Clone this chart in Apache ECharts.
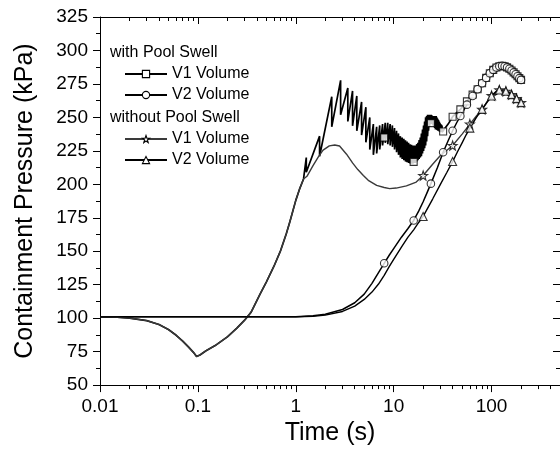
<!DOCTYPE html>
<html><head><meta charset="utf-8">
<script src="https://cdn.jsdelivr.net/npm/echarts@6/dist/echarts.min.js"></script>
<style>html,body{margin:0;padding:0;background:#fff}#c{width:560px;height:451px}</style>
</head><body><div id="c"></div>
<script>
// ---------- data ----------
const xMajorTicks = [0.01, 0.1, 1, 10, 100];
const xMinorTicks = [0.02,0.03,0.04,0.05,0.06,0.07,0.08,0.09,0.2,0.3,0.4,0.5,0.6,0.7,0.8,0.9,2,3,4,5,6,7,8,9,20,30,40,50,60,70,80,90,200,300,400];

// shared early part of both V1 curves (depressurisation dip)
const dipT = [0.01,0.015,0.02,0.03,0.04,0.05,0.06,0.07,0.08,0.09,0.097,0.105,0.12,0.15,0.2,0.25,0.3,0.35,0.43,0.5,0.6,0.7,0.8,0.87,1,1.1,1.2];
const dipP = [101,100.7,100.1,98.2,95.3,91.5,87.2,82.8,78.5,74.5,71.3,72.5,75.5,79.5,86,92.5,98.5,104.5,117.7,127,139,150.5,163,172,188,197,204];

// with Pool Swell, V1 Volume: sawtooth (peak then vertical drop)
const toothT  = [1.28,1.75,2.33,2.87,3.4,3.8,4.2,4.7,5.2,5.7,6.2,6.7,7.2,7.7,8.2,8.7,9.2,9.7,10.2,10.7,11.2,11.7,12.2,12.7,13.2,13.7,14.2,14.7,15.2,15.7,16.2,16.7,17.2,17.7,18.2,18.7,19.2,19.7,20.2,20.7,21.2,21.7,22.2,22.7,23.2,23.7,24.2,24.7,25.2,25.7,26.2,26.7,27.2,27.7,28.2,28.7,29.2,29.7,30.2,30.7,31.2];
const toothHi = [220,236,265.5,277.7,272,269.8,266,261.5,257.6,250,245,243,244,245,246,246,245,244,242,240,238,236,235,234,233,232,231,230,229.5,229,229,229,230,231,233,235,238,241,244,247,250,251,252,252,252,252,252,251.5,251,251,251,251,251,250,249,248,247,246,245,244.5,244];
const toothLo = [209,221,243,252,247,243.7,240,236.8,231.4,226,222,223,226,229,231,230,229,228,226,224,222,220,219,218,217,216.5,216,215.5,215.5,215.5,216,216,217,218,219,220,221,223,225,227,229,232,236,240,243,245,246,245,244,243,242,241,241,240.5,240,240,239.5,239,239,239,239];
const v1PsLateT = [32,36,40,44,48,52,56,60,64,72,80,88,96,104,112,120,128,136,144,152,160,168,176,184,192,200];
const v1PsLateP = [239.5,245,250.5,253.5,256,259,262,264.5,267,271,275.5,279.5,283,285.5,287.3,288.2,288.5,288.2,287.4,286.3,285,283.6,282.2,280.7,279.3,278];
const v1PsMarkT = [8,16,24,32,40,48,56,64,72,80,88,96,104,112,120,128,136,144,152,160,168,176,184,192,200];
const v1PsMarkP = [235,216.8,245.7,239.5,250.5,256,262,267,271,275.5,279.5,283,285.5,287.3,288.2,288.5,288.2,287.4,286.3,285,283.6,282.2,280.7,279.3,278];

// with Pool Swell, V2 Volume
const v2PsT = [0.01,0.1,1,1.5,2,3,4,5,6,7,8,9,10,12,14,16,18,20,22,24,28,32,36,40,44,48,52,56,60,64,72,80,88,96,104,112,120,128,136,144,152,160,168,176,184,192,200];
const v2PsP = [101,101,101,101.8,103,106.5,111.5,118,126,134,141,147,152,160.5,167,173,180,187,194,200.5,212.5,224,232.5,240,246,251,255.5,259.5,263,266,271,275.5,279.5,283,285.5,287.3,288.2,288.5,288.2,287.4,286.3,285,283.6,282.2,280.7,279.3,278];
const v2PsMarkT = [8,16,24,32,40,48,56,64,72,80,88,96,104,112,120,128,136,144,152,160,168,176,184,192,200];
const v2PsMarkP = [141,173,200.5,224,240,251,259.5,266,271,275.5,279.5,283,285.5,287.3,288.2,288.5,288.2,287.4,286.3,285,283.6,282.2,280.7,279.3,278];

// without Pool Swell, V1 Volume (after the shared dip)
const v1NoT = [1.3,1.5,1.7,1.9,2.2,2.5,2.8,3.3,3.8,4.3,4.9,5.5,6.7,8,9.1,10.6,13.5,17,20,25,30,35,40,50,60,70,80,90,100,110,120,130,140,150,160,170,180,190,200];
const v1NoP = [206,214,220.5,225.5,228.7,229.4,228.6,222.5,216,211,206.6,203,199.2,197.6,196.8,197.2,198.8,201.7,206.6,215,221.5,225.5,229,237.5,245,251,256,261.5,266.3,269,270.5,270.3,269.5,268.5,267,265.5,264,262.5,261];
const v1NoMarkT = [20,40,60,80,100,120,140,160,180,200];
const v1NoMarkP = [206.6,229,245,256,266.3,270.5,269.5,267,264,261];

// without Pool Swell, V2 Volume
const v2NoT = [0.01,0.1,1,1.5,2,3,4,5,6,7,8,9,10,12,14,16,18,20,25,30,35,40,45,50,55,60,70,80,90,100,110,120,130,140,150,160,170,180,190,200];
const v2NoP = [101,101,101,101.4,102.3,105,109,114,119.5,125.5,132,138.5,144,153,160.5,166,171.5,176,189,200,209,217,224.5,231,237,242,250,256,261.5,266,269,270.5,270.3,269.5,268.5,267,265.5,264,262.5,261];
const v2NoMarkT = [20,40,60,80,100,120,140,160,180,200];
const v2NoMarkP = [176,217,242,256,266,270.5,269.5,267,264,261];

// ---------- build ----------
const pairs = (T, P) => T.map((t, i) => [t, P[i]]);
const teeth = [];
toothT.forEach((t, i) => { teeth.push([t, toothHi[i]]); teeth.push([t, toothLo[i]]); });
const dataA = pairs(dipT, dipP).concat(teeth, pairs(v1PsLateT, v1PsLateP));
const dataB = pairs(v2PsT, v2PsP);
const dataC = pairs(dipT, dipP).concat(pairs(v1NoT, v1NoP));
const dataD = pairs(v2NoT, v2NoP);

const STAR = 'path://M0,-10 L2.35,-3.24 L9.51,-3.09 L3.8,1.24 L5.88,8.09 L0,4 L-5.88,8.09 L-3.8,1.24 L-9.51,-3.09 L-2.35,-3.24 Z';
const FONT = 'Liberation Sans';
const names = {
  a: 'with Pool Swell V1 Volume', b: 'with Pool Swell V2 Volume',
  c: 'without Pool Swell V1 Volume', d: 'without Pool Swell V2 Volume'
};
const markerStyle = { color: '#fff', borderColor: '#000', borderWidth: 1.1 };

function lineSeries(name, data, symbol, size, color, width) {
  return {
    type: 'line', name, data, symbol, symbolSize: size, showSymbol: false,
    xAxisIndex: 0, yAxisIndex: 0,
    itemStyle: markerStyle, lineStyle: { color: color, width: width },
    emphasis: { disabled: true }, z: 2
  };
}
function markSeries(data, symbol, size) {
  return {
    type: 'scatter', name: 'm_' + symbol, data, symbol, symbolSize: size,
    xAxisIndex: 0, yAxisIndex: 0, itemStyle: markerStyle,
    emphasis: { disabled: true }, z: 3
  };
}
function legendFor(name, top) {
  return {
    data: [name], left: 124, top: top, orient: 'vertical', padding: 0,
    itemWidth: 42, itemHeight: 9, selectedMode: false,
    itemStyle: { borderWidth: 1.1 },
    formatter: n => n.replace(/^with(out)? Pool Swell /, ''),
    textStyle: { fontFamily: FONT, fontSize: 16, color: '#000' }
  };
}

const axisCommonX = { type: 'log', min: 0.01, max: 500, gridIndex: 0, splitLine: { show: false } };
const axisCommonY = { type: 'value', min: 50, max: 325, interval: 25, splitLine: { show: false } };
const blackLine = { lineStyle: { color: '#000', width: 1 } };

const chart = echarts.init(document.getElementById('c'), null, { renderer: 'canvas' });
chart.setOption({
  animation: false,
  backgroundColor: '#fff',
  grid: { left: 100, right: 0, top: 17, bottom: 63 },
  xAxis: [
    Object.assign({}, axisCommonX, {
      position: 'bottom',
      axisLine: Object.assign({ show: true }, blackLine),
      axisTick: { show: true, length: 7, customValues: xMajorTicks, lineStyle: { color: '#000' } },
      axisLabel: { customValues: xMajorTicks, margin: 12, color: '#000', fontFamily: FONT, fontSize: 19,
        formatter: v => String(+v.toPrecision(3)) },
      name: 'Time (s)', nameLocation: 'middle', nameGap: 28,
      nameTextStyle: { fontFamily: FONT, fontSize: 25, color: '#000' }
    }),
    Object.assign({}, axisCommonX, {
      position: 'bottom', axisLine: { show: false },
      axisTick: { show: true, length: 4, customValues: xMinorTicks, lineStyle: { color: '#000' } },
      axisLabel: { show: false }
    }),
    Object.assign({}, axisCommonX, {
      position: 'top',
      axisLine: Object.assign({ show: true }, blackLine),
      axisTick: { show: true, inside: true, length: 7, customValues: xMajorTicks, lineStyle: { color: '#000' } },
      axisLabel: { show: false }
    }),
    Object.assign({}, axisCommonX, {
      position: 'top', axisLine: { show: false },
      axisTick: { show: true, inside: true, length: 4, customValues: xMinorTicks, lineStyle: { color: '#000' } },
      axisLabel: { show: false }
    })
  ],
  yAxis: [
    Object.assign({}, axisCommonY, {
      position: 'left',
      axisLine: Object.assign({ show: true }, blackLine),
      axisTick: { show: true, length: 7, lineStyle: { color: '#000' } },
      minorTick: { show: true, splitNumber: 2, length: 4, lineStyle: { color: '#000' } },
      axisLabel: { margin: 12, color: '#000', fontFamily: FONT, fontSize: 19 },
      name: 'Containment Pressure (kPa)', nameLocation: 'middle', nameGap: 62,
      nameTextStyle: { fontFamily: FONT, fontSize: 25, color: '#000' }
    }),
    Object.assign({}, axisCommonY, {
      position: 'right',
      axisLine: Object.assign({ show: true }, blackLine),
      axisTick: { show: true, inside: true, length: 7, lineStyle: { color: '#000' } },
      minorTick: { show: true, splitNumber: 2, length: 4, lineStyle: { color: '#000' } },
      axisLabel: { show: false }
    })
  ],
  legend: [
    legendFor(names.a, 66),
    legendFor(names.b, 87),
    legendFor(names.c, 131),
    legendFor(names.d, 152)
  ],
  graphic: [
    { type: 'text', x: 110, y: 53, style: { text: 'with Pool Swell', fontFamily: FONT, fontSize: 16, fill: '#000', verticalAlign: 'middle' } },
    { type: 'text', x: 110, y: 118, style: { text: 'without Pool Swell', fontFamily: FONT, fontSize: 16, fill: '#000', verticalAlign: 'middle' } }
  ],
  series: [
    lineSeries(names.a, dataA, 'rect', 7, '#000', 1.7),
    lineSeries(names.b, dataB, 'circle', 7.5, '#000', 1.5),
    lineSeries(names.c, dataC, STAR, 9, '#3a3a3a', 1.4),
    lineSeries(names.d, dataD, 'triangle', 8, '#000', 1.4),
    markSeries(pairs(v1PsMarkT, v1PsMarkP), 'rect', 7),
    markSeries(pairs(v2PsMarkT, v2PsMarkP), 'circle', 7.5),
    markSeries(pairs(v1NoMarkT, v1NoMarkP), STAR, 9),
    markSeries(pairs(v2NoMarkT, v2NoMarkP), 'triangle', 8)
  ]
});
</script></body></html>
